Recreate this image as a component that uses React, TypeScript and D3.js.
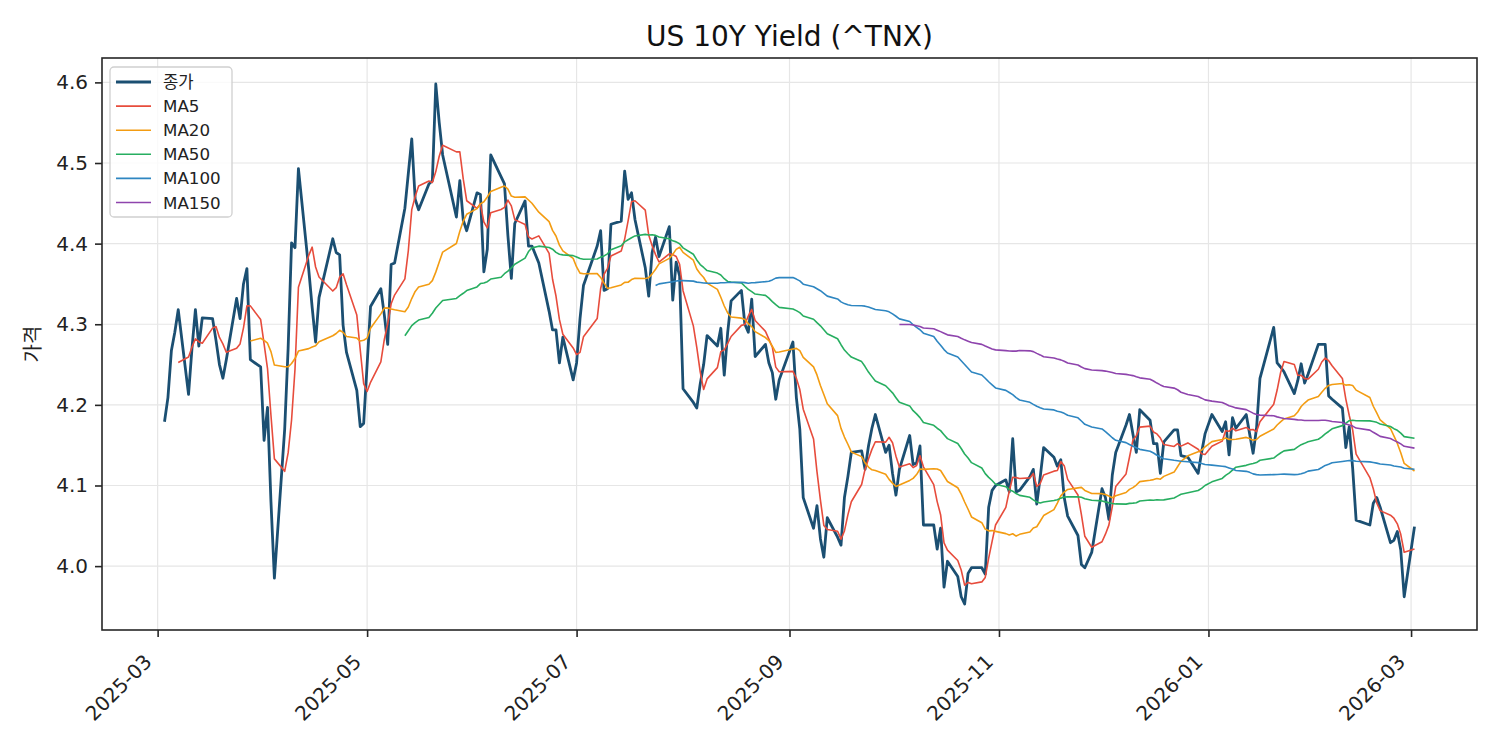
import { useEffect, useRef } from 'react'
import * as d3 from 'd3'

// Trading days per month and daily closes of ^TNX
const months = ['2025-03', '2025-04', '2025-05', '2025-06', '2025-07', '2025-08', '2025-09', '2025-10', '2025-11', '2025-12', '2026-01', '2026-02', '2026-03']

const tradingDays = [
  [3, 4, 5, 6, 7, 10, 11, 12, 13, 14, 17, 18, 19, 20, 21, 24, 25, 26, 27, 28, 31],
  [1, 2, 3, 4, 7, 8, 9, 10, 11, 14, 15, 16, 17, 21, 22, 23, 24, 25, 28, 29, 30],
  [1, 2, 5, 6, 7, 8, 9, 12, 13, 14, 15, 16, 19, 20, 21, 22, 23, 27, 28, 29, 30],
  [2, 3, 4, 5, 6, 9, 10, 11, 12, 13, 16, 17, 18, 20, 23, 24, 25, 26, 27, 30],
  [1, 2, 3, 7, 8, 9, 10, 11, 14, 15, 16, 17, 18, 21, 22, 23, 24, 25, 28, 29, 30, 31],
  [1, 4, 5, 6, 7, 8, 11, 12, 13, 14, 15, 18, 19, 20, 21, 22, 25, 26, 27, 28, 29],
  [2, 3, 4, 5, 8, 9, 10, 11, 12, 15, 16, 17, 18, 19, 22, 23, 24, 25, 26, 29, 30],
  [1, 2, 3, 6, 7, 8, 9, 10, 13, 14, 15, 16, 17, 20, 21, 22, 23, 24, 27, 28, 29, 30, 31],
  [3, 4, 5, 6, 7, 10, 11, 12, 13, 14, 17, 18, 19, 20, 21, 24, 25, 26, 28],
  [1, 2, 3, 4, 5, 8, 9, 10, 11, 12, 15, 16, 17, 18, 19, 22, 23, 24, 26, 29, 30, 31],
  [2, 5, 6, 7, 8, 9, 12, 13, 14, 15, 16, 20, 21, 22, 23, 26, 27, 28, 29, 30],
  [2, 3, 4, 5, 6, 9, 10, 11, 12, 13, 17, 18, 19, 20, 23, 24, 25, 26, 27],
  [2],
]

const closes = [
  [4.179, 4.209, 4.267, 4.29, 4.318, 4.213, 4.27, 4.318, 4.273, 4.308, 4.307, 4.28, 4.25, 4.233, 4.256, 4.332, 4.307, 4.35, 4.369, 4.256, 4.247],
  [4.156, 4.197, 4.08, 3.985, 4.17, 4.27, 4.401, 4.395, 4.493, 4.368, 4.321, 4.278, 4.333, 4.406, 4.389, 4.386, 4.299, 4.265, 4.218, 4.173, 4.177],
  [4.25, 4.322, 4.344, 4.312, 4.275, 4.374, 4.376, 4.444, 4.487, 4.53, 4.455, 4.442, 4.474, 4.478, 4.598, 4.55, 4.51, 4.433, 4.478, 4.429, 4.416],
  [4.463, 4.461, 4.365, 4.393, 4.51, 4.483, 4.474, 4.41, 4.357, 4.425, 4.453, 4.397, 4.397, 4.376, 4.316, 4.293, 4.293, 4.252, 4.284, 4.231],
  [4.252, 4.307, 4.348, 4.397, 4.416, 4.342, 4.344, 4.424, 4.428, 4.49, 4.455, 4.463, 4.43, 4.37, 4.335, 4.389, 4.408, 4.384, 4.421, 4.33, 4.377, 4.36],
  [4.22, 4.203, 4.196, 4.226, 4.25, 4.286, 4.273, 4.295, 4.237, 4.29, 4.329, 4.342, 4.3, 4.29, 4.331, 4.26, 4.275, 4.252, 4.24, 4.207, 4.231],
  [4.278, 4.209, 4.17, 4.085, 4.047, 4.075, 4.034, 4.011, 4.06, 4.036, 4.026, 4.085, 4.111, 4.141, 4.143, 4.12, 4.149, 4.171, 4.188, 4.141, 4.15],
  [4.115, 4.088, 4.12, 4.162, 4.126, 4.128, 4.149, 4.051, 4.051, 4.021, 4.047, 3.974, 4.006, 3.987, 3.962, 3.953, 3.991, 3.998, 3.998, 3.99, 4.073, 4.094, 4.1],
  [4.107, 4.092, 4.158, 4.092, 4.094, 4.111, 4.12, 4.077, 4.11, 4.147, 4.135, 4.124, 4.132, 4.085, 4.062, 4.038, 4.002, 3.998, 4.017],
  [4.096, 4.085, 4.058, 4.113, 4.141, 4.175, 4.188, 4.164, 4.141, 4.194, 4.181, 4.152, 4.152, 4.115, 4.154, 4.169, 4.169, 4.137, 4.135, 4.115, 4.141, 4.164],
  [4.188, 4.167, 4.179, 4.138, 4.184, 4.171, 4.188, 4.164, 4.14, 4.171, 4.233, 4.296, 4.252, 4.247, 4.241, 4.214, 4.23, 4.251, 4.227, 4.238],
  [4.275, 4.275, 4.275, 4.211, 4.207, 4.196, 4.147, 4.173, 4.121, 4.057, 4.051, 4.078, 4.085, 4.073, 4.029, 4.032, 4.043, 4.02, 3.962],
  [4.049],
]

const maWindows = [5, 20, 50, 100, 150]
const seriesNames = ['종가', 'MA5', 'MA20', 'MA50', 'MA100', 'MA150']
const seriesColors = ['#1B4F72', '#E74C3C', '#F39C12', '#27AE60', '#2E86C1', '#8E44AD']
const seriesWidths = [2.8, 1.6, 1.6, 1.6, 1.6, 1.6]
const yTicks = [4.0, 4.1, 4.2, 4.3, 4.4, 4.5, 4.6]
const xTickMonths = ['2025-03', '2025-05', '2025-07', '2025-09', '2025-11', '2026-01', '2026-03']

const FONT = "'DejaVu Sans', 'Noto Sans CJK KR', sans-serif"

export default function App() {
  const svgRef = useRef<SVGSVGElement>(null)
  const width = 1500
  const height = 750

  useEffect(() => {
    if (!svgRef.current) return
    document.body.style.margin = '0'

    const svg = d3.select(svgRef.current)
    svg.selectAll('*').remove()

    const margin = { top: 58, right: 23, bottom: 120, left: 102 }
    const x0 = margin.left
    const x1 = width - margin.right
    const y0 = height - margin.bottom
    const y1 = margin.top

    // flatten months into daily points
    const points: { date: Date; close: number }[] = []
    months.forEach((m, i) => {
      const [yy, mm] = m.split('-').map(Number)
      tradingDays[i].forEach((d, j) => {
        points.push({ date: new Date(yy, mm - 1, d), close: closes[i][j] })
      })
    })

    // rolling means
    const maSeries = maWindows.map(w =>
      points.map((p, i) => (i < w - 1 ? null : d3.mean(points.slice(i - w + 1, i + 1), q => q.close)!))
    )

    const first = points[0].date.getTime()
    const last = points[points.length - 1].date.getTime()
    const xPad = (last - first) * 0.05
    const x = d3.scaleTime().domain([new Date(first - xPad), new Date(last + xPad)]).range([x0, x1])

    const [lo, hi] = d3.extent(points, p => p.close) as [number, number]
    const yPad = (hi - lo) * 0.05
    const y = d3.scaleLinear().domain([lo - yPad, hi + yPad]).range([y0, y1])

    svg.append('rect').attr('width', width).attr('height', height).attr('fill', '#fff')

    // grid
    const grid = svg.append('g')
    const xTickDates = xTickMonths.map(m => {
      const [yy, mm] = m.split('-').map(Number)
      return new Date(yy, mm - 1, 1)
    })
    grid.selectAll('line.gx')
      .data(xTickDates)
      .enter()
      .append('line')
      .attr('x1', d => x(d)).attr('x2', d => x(d))
      .attr('y1', y1).attr('y2', y0)
      .attr('stroke', '#e6e6e6').attr('stroke-width', 1.2)
    grid.selectAll('line.gy')
      .data(yTicks)
      .enter()
      .append('line')
      .attr('x1', x0).attr('x2', x1)
      .attr('y1', d => y(d)).attr('y2', d => y(d))
      .attr('stroke', '#e6e6e6').attr('stroke-width', 1.2)

    // lines
    const plot = svg.append('g')
    const closeLine = d3.line<{ date: Date; close: number }>()
      .x(d => x(d.date))
      .y(d => y(d.close))
    plot.append('path')
      .datum(points)
      .attr('d', closeLine)
      .attr('fill', 'none')
      .attr('stroke', seriesColors[0])
      .attr('stroke-width', seriesWidths[0])
      .attr('stroke-linejoin', 'round')

    maSeries.forEach((vals, k) => {
      const line = d3.line<number | null>()
        .defined(v => v !== null)
        .x((_, i) => x(points[i].date))
        .y(v => y(v as number))
      plot.append('path')
        .datum(vals)
        .attr('d', line)
        .attr('fill', 'none')
        .attr('stroke', seriesColors[k + 1])
        .attr('stroke-width', seriesWidths[k + 1])
        .attr('stroke-linejoin', 'round')
    })

    // frame
    svg.append('rect')
      .attr('x', x0).attr('y', y1)
      .attr('width', x1 - x0).attr('height', y0 - y1)
      .attr('fill', 'none').attr('stroke', '#262626').attr('stroke-width', 1.6)

    // x axis
    const xAxis = svg.append('g').attr('transform', `translate(0, ${y0})`)
      .call(d3.axisBottom(x).tickValues(xTickDates).tickSize(7).tickSizeOuter(0).tickFormat(d3.timeFormat('%Y-%m') as any))
    xAxis.select('.domain').remove()
    xAxis.selectAll('line').attr('stroke', '#262626').attr('stroke-width', 1.6)
    xAxis.selectAll('text')
      .attr('y', 0).attr('dy', 0)
      .attr('transform', 'translate(-5, 33) rotate(-45)')
      .attr('text-anchor', 'end')
      .style('font-family', FONT)
      .style('font-size', '20px')
      .style('fill', '#222')

    // y axis
    const yAxis = svg.append('g').attr('transform', `translate(${x0}, 0)`)
      .call(d3.axisLeft(y).tickValues(yTicks).tickSize(7).tickSizeOuter(0).tickPadding(7).tickFormat(d3.format('.1f') as any))
    yAxis.select('.domain').remove()
    yAxis.selectAll('line').attr('stroke', '#262626').attr('stroke-width', 1.6)
    yAxis.selectAll('text')
      .style('font-family', FONT)
      .style('font-size', '20px')
      .style('fill', '#222')

    svg.append('text')
      .attr('transform', `translate(40, ${(y0 + y1) / 2}) rotate(-90)`)
      .attr('text-anchor', 'middle')
      .style('font-family', FONT)
      .style('font-size', '20px')
      .style('fill', '#222')
      .text('가격')

    // title
    svg.append('text')
      .attr('x', (x0 + x1) / 2)
      .attr('y', 46)
      .attr('text-anchor', 'middle')
      .style('font-family', FONT)
      .style('font-size', '28px')
      .style('fill', '#111')
      .text('US 10Y Yield (^TNX)')

    // legend
    const lg = svg.append('g').attr('transform', 'translate(110, 67)')
    lg.append('rect')
      .attr('width', 122).attr('height', 150)
      .attr('rx', 4)
      .attr('fill', 'rgba(255,255,255,0.8)')
      .attr('stroke', '#d0d0d0').attr('stroke-width', 1.3)
    seriesNames.forEach((name, i) => {
      const cy = 15 + i * 24.1
      lg.append('line')
        .attr('x1', 6).attr('x2', 41)
        .attr('y1', cy).attr('y2', cy)
        .attr('stroke', seriesColors[i])
        .attr('stroke-width', seriesWidths[i])
      lg.append('text')
        .attr('x', 53).attr('y', cy)
        .attr('dy', '0.36em')
        .style('font-family', FONT)
        .style('font-size', '16.7px')
        .style('fill', '#222')
        .text(name)
    })
  }, [])

  return <svg ref={svgRef} width={width} height={height} style={{ display: 'block' }} />
}
